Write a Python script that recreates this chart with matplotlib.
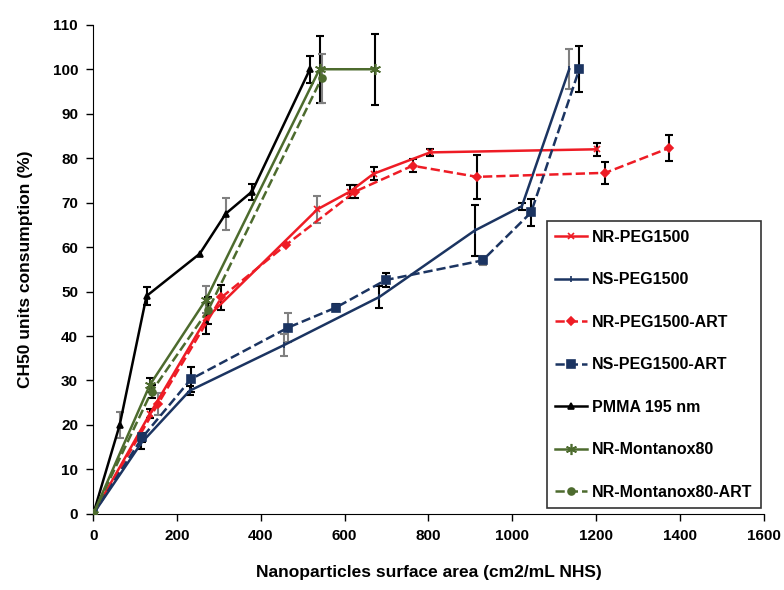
import matplotlib
matplotlib.use('Agg')
import matplotlib.pyplot as plt

plt.rcParams['font.family'] = ['Liberation Sans', 'DejaVu Sans']
plt.rcParams['font.weight'] = 'bold'

# NR-PEG1500
nr_peg_x = [0, 135, 270, 535, 613, 669, 804, 1202]
nr_peg_y = [0, 22.5, 44, 68.5, 72.5, 76.5, 81.3, 82]
nr_peg_err = [0, 1, 3.5, 3, 1.5, 1.5, 0.8, 1.5]

# NS-PEG1500
ns_peg_x = [0, 115, 230, 456, 683, 910, 1023, 1136]
ns_peg_y = [0, 16, 27.7, 38, 48.8, 63.7, 69.2, 100]
ns_peg_err = [0, 1.5, 1, 2.5, 2.5, 5.7, 0.8, 4.5]

# NR-PEG1500-ART
nr_art_x = [0, 155, 306, 460, 625, 762, 916, 1222, 1375]
nr_art_y = [0, 24.8, 48.7, 60.5, 72.5, 78.3, 75.8, 76.7, 82.3]
nr_art_err = [0, 2.5, 2.8, 0, 1.5, 1.5, 5, 2.5, 3]

# NS-PEG1500-ART
ns_art_x = [0, 117, 233, 465, 579, 698, 929, 1045, 1160]
ns_art_y = [0, 17.2, 30.3, 41.9, 46.4, 52.6, 57, 67.8, 100]
ns_art_err = [0, 1, 2.8, 3.3, 0.8, 1.5, 1, 3, 5.2]

# PMMA 195 nm
pmma_x = [0, 63, 127, 254, 316, 379, 517]
pmma_y = [0, 20, 49, 58.5, 67.5, 72.5, 100]
pmma_err = [0, 3, 2, 0, 3.6, 1.8, 3]

# NR-Montanox80
mon_x = [0, 135, 269, 540, 673]
mon_y = [0, 29, 48.2, 100, 100]
mon_err = [0, 1.5, 3, 7.5, 8]

# NR-Montanox80-ART
mon_art_x = [0, 139, 274, 545]
mon_art_y = [0, 27.5, 45.8, 98]
mon_art_err = [0, 1.5, 3, 5.5]

red = '#ee1c25'
navy = '#1b3461'
green = '#4d6b2e'

# label, x, y, err, colour, linestyle, marker, marker size, grey error-bar indices
series = [
    ('NR-PEG1500', nr_peg_x, nr_peg_y, nr_peg_err, red, '-', 'x', 4, [3]),
    ('NS-PEG1500', ns_peg_x, ns_peg_y, ns_peg_err, navy, '-', '|', 4, [3, 7]),
    ('NR-PEG1500-ART', nr_art_x, nr_art_y, nr_art_err, red, '--', 'D', 4, [1]),
    ('NS-PEG1500-ART', ns_art_x, ns_art_y, ns_art_err, navy, '--', 's', 6, [3, 6]),
    ('PMMA 195 nm', pmma_x, pmma_y, pmma_err, 'black', '-', '^', 5, [1, 4]),
    ('NR-Montanox80', mon_x, mon_y, mon_err, green, '-', (6, 2, 0), 8, [2]),
    ('NR-Montanox80-ART', mon_art_x, mon_art_y, mon_art_err, green, '--', 'o', 5, [3]),
]

fig = plt.figure(figsize=(7.84, 5.9), dpi=100)
ax = fig.add_axes([0.119, 0.129, 0.855, 0.829])

for label, x, y, err, col, ls, mk, ms, grey in series:
    ecols = ['#808080' if i in grey else 'black' for i in range(len(x))]
    for xi, yi, ei, ec in zip(x, y, err, ecols):
        if ei > 0:
            ax.errorbar([xi], [yi], yerr=[ei], fmt='none', ecolor=ec,
                        elinewidth=1.5, capsize=3, capthick=1.5, zorder=2)
    ax.plot(x, y, color=col, ls=ls, lw=1.8, marker=mk, ms=ms,
            mec=col, mfc=col, mew=1.2, label=label, zorder=3)

ax.set_xlim(0, 1600)
ax.set_ylim(0, 110)
ax.set_xticks(range(0, 1601, 200))
ax.set_yticks(range(0, 111, 10))
ax.spines['top'].set_visible(False)
ax.spines['right'].set_visible(False)
ax.tick_params(direction='out', length=5, width=1, labelsize=11, pad=6)
for t in ax.get_xticklabels() + ax.get_yticklabels():
    t.set_fontweight('bold')

ax.set_xlabel('Nanoparticles surface area (cm2/mL NHS)', fontsize=12.5,
              fontweight='bold', labelpad=16)
ax.set_ylabel('CH50 units consumption (%)', fontsize=12.5, fontweight='bold',
              labelpad=14)

leg = ax.legend(loc='center', bbox_to_anchor=(0.679, 0.013, 0.315, 0.584),
                frameon=True, fancybox=False, edgecolor='black',
                labelspacing=1.72, handlelength=2.0, handletextpad=0.3,
                prop={'size': 11.5, 'weight': 'bold'}, borderpad=0.55)
leg.get_frame().set_linewidth(1.2)

fig.savefig('out.png', dpi=100)
